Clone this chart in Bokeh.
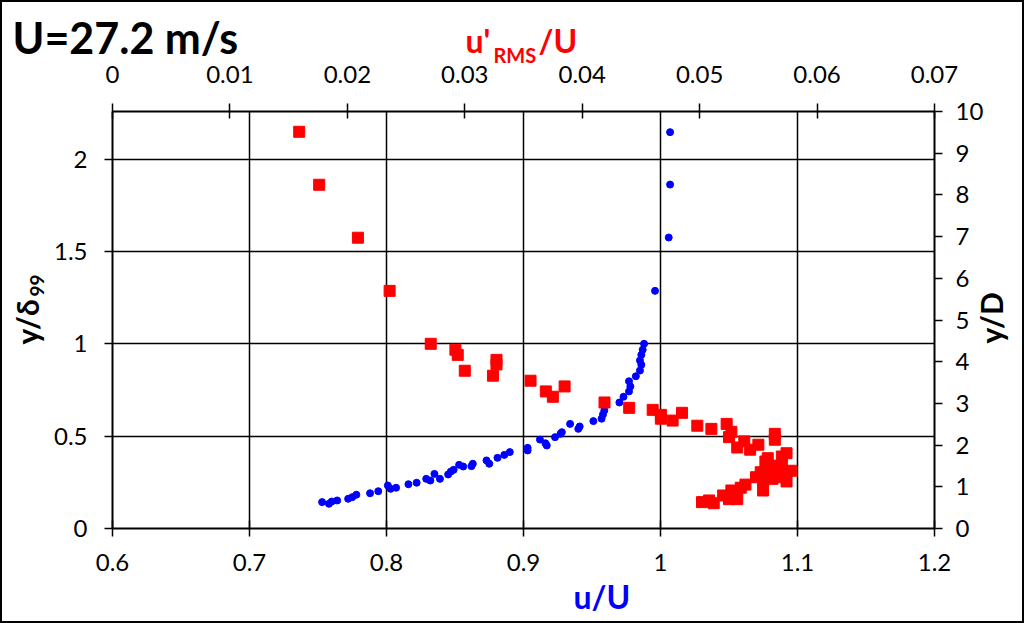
from math import pi

from bokeh.embed import file_html
from bokeh.layouts import column
from bokeh.models import (FixedTicker, Label, LinearAxis, NumeralTickFormatter,
                          Range1d)
from bokeh.plotting import figure
from bokeh.resources import INLINE

# Mean streamwise velocity profile: u/U against y/delta99
u_mean = [0.753, 0.758, 0.760, 0.764, 0.772, 0.775, 0.778, 0.788, 0.794, 0.801,
          0.803, 0.807, 0.816, 0.822, 0.829, 0.832, 0.835, 0.839, 0.845, 0.847,
          0.849, 0.853, 0.856, 0.862, 0.863, 0.873, 0.875, 0.881, 0.886, 0.890,
          0.903, 0.903, 0.912, 0.916, 0.917, 0.923, 0.927, 0.928, 0.934, 0.940,
          0.941, 0.951, 0.957, 0.958, 0.959, 0.970, 0.973, 0.977, 0.978, 0.977,
          0.982, 0.985, 0.986, 0.985, 0.986, 0.987, 0.988, 0.996, 1.006, 1.007,
          1.007]
y_mean = [0.143, 0.134, 0.146, 0.152, 0.161, 0.170, 0.183, 0.191, 0.202, 0.233,
          0.215, 0.221, 0.240, 0.248, 0.269, 0.260, 0.296, 0.269, 0.293, 0.309,
          0.318, 0.345, 0.336, 0.338, 0.351, 0.369, 0.351, 0.383, 0.399, 0.414,
          0.437, 0.423, 0.482, 0.462, 0.450, 0.495, 0.513, 0.522, 0.567, 0.540,
          0.553, 0.582, 0.595, 0.618, 0.640, 0.683, 0.714, 0.743, 0.770, 0.798,
          0.825, 0.856, 0.887, 0.911, 0.941, 0.969, 1.001, 1.288, 1.577, 1.864,
          2.148]

# Streamwise turbulence intensity: u'_RMS/U against y/delta99
u_rms = [0.0159, 0.0176, 0.0209, 0.0236, 0.0271, 0.0292, 0.0294, 0.0300, 0.0327, 0.0327,
         0.0324, 0.0356, 0.0369, 0.0375, 0.0385, 0.0419, 0.0440, 0.0460, 0.0467, 0.0467,
         0.0477, 0.0485, 0.0498, 0.0510, 0.0523, 0.0527, 0.0525, 0.0532, 0.0538, 0.0543,
         0.0550, 0.0564, 0.0564, 0.0558, 0.0556, 0.0574, 0.0570, 0.0578, 0.0574, 0.0554,
         0.0548, 0.0539, 0.0535, 0.0527, 0.0520, 0.0525, 0.0532, 0.0508, 0.0502, 0.0512,
         0.0560, 0.0566, 0.0559, 0.0562, 0.0554, 0.0569, 0.0552, 0.0570]
y_rms = [2.150, 1.863, 1.576, 1.288, 1.001, 0.969, 0.941, 0.855, 0.914, 0.889,
         0.828, 0.801, 0.743, 0.714, 0.770, 0.683, 0.654, 0.643, 0.616, 0.595,
         0.585, 0.627, 0.557, 0.540, 0.567, 0.524, 0.495, 0.439, 0.472, 0.427,
         0.454, 0.513, 0.481, 0.381, 0.363, 0.408, 0.390, 0.313, 0.255, 0.206,
         0.278, 0.238, 0.221, 0.206, 0.179, 0.159, 0.159, 0.152, 0.143, 0.137,
         0.341, 0.324, 0.296, 0.269, 0.260, 0.278, 0.305, 0.341]

# Axis ticks
u_ticks = [0.6, 0.7, 0.8, 0.9, 1.0, 1.1, 1.2]
y_ticks = [0, 0.5, 1, 1.5, 2]
rms_ticks = [0, 0.01, 0.02, 0.03, 0.04, 0.05, 0.06, 0.07]
yd_ticks = [0, 1, 2, 3, 4, 5, 6, 7, 8, 9, 10]

FONT = "Lato"
PAGE_W, PAGE_H = 1024, 623
EDGE = 2                                  # width of the frame round the chart
W, H = PAGE_W - 2 * EDGE, PAGE_H - 2 * EDGE
FRAME_L, FRAME_R, FRAME_T, FRAME_B = 112, 934, 111, 528   # plot area, page px
MID = 0.385      # baseline sits this many ems below the label anchor

# ---- main chart -------------------------------------------------------------
p = figure(width=W, height=H, output_backend="svg", toolbar_location=None,
           tools="", x_range=Range1d(0.6, 1.2), y_range=Range1d(0, 2.26),
           min_border_left=FRAME_L - EDGE, min_border_right=PAGE_W - EDGE - FRAME_R,
           min_border_top=FRAME_T - EDGE, min_border_bottom=PAGE_H - EDGE - FRAME_B,
           outline_line_color=None, background_fill_color="white",
           border_fill_color="white")
p.title.visible = False
p.extra_x_ranges = {"rms": Range1d(0, 0.07)}
p.extra_y_ranges = {"yd": Range1d(0, 10)}

bottom = p.below[0]
left = p.left[0]
top = LinearAxis(x_range_name="rms")
right = LinearAxis(y_range_name="yd")
p.add_layout(top, "above")
p.add_layout(right, "right")

fmt = NumeralTickFormatter(format="0.[00]")
for ax, ticks in ((bottom, u_ticks), (left, y_ticks), (top, rms_ticks), (right, yd_ticks)):
    ax.ticker = FixedTicker(ticks=ticks)
    ax.formatter = fmt
    ax.axis_line_color = "black"
    ax.axis_line_width = 2
    ax.major_tick_line_color = "black"
    ax.major_tick_line_width = 1.5
    ax.minor_tick_line_color = None
    ax.major_label_text_font = FONT
    ax.major_label_text_font_size = "24px"
    ax.major_label_text_color = "black"

bottom.major_tick_in, bottom.major_tick_out, bottom.major_label_standoff = 8, 8, 17
top.major_tick_in, top.major_tick_out, top.major_label_standoff = 7, 8, 21
left.major_tick_in, left.major_tick_out, left.major_label_standoff = 0, 8, 17
right.major_tick_in, right.major_tick_out, right.major_label_standoff = 0, 8, 13

for g in (p.xgrid, p.ygrid):
    g.grid_line_color = "black"
    g.grid_line_width = 1.5

p.scatter(u_mean, y_mean, marker="circle", size=7, color="#0000ff")
p.scatter(u_rms, y_rms, marker="square", size=11, color="#ff0000",
          x_range_name="rms")


def side_label(side, x, y, text, size, color="black", upright=False):
    """Bold text in a margin of the chart; (x, y) is where its baseline starts, page px."""
    if upright:
        x -= MID * size
        angle = pi / 2
    else:
        y -= MID * size
        angle = 0.0
    p.add_layout(Label(x=x - EDGE, y=y - EDGE, x_units="canvas", y_units="canvas",
                       text=text, text_font=FONT, text_font_size=f"{size}px",
                       text_font_style="bold", text_color=color, angle=angle,
                       text_align="left", text_baseline="alphabetic"), side)


side_label("above", 12, 54, "U=27.2 m/s", 43)
side_label("left", 38, 344, "y/δ", 30, upright=True)
side_label("below", 44, 296, "99", 19, upright=True)
side_label("right", 1002, 343, "y/D", 30, upright=True)

# ---- transparent text layer over the chart, in page pixels --------------------
ov = figure(width=W, height=H, output_backend="svg", toolbar_location=None,
            tools="", x_range=Range1d(FRAME_L, FRAME_R),
            y_range=Range1d(EDGE, PAGE_H - EDGE),
            x_axis_type=None, y_axis_type=None, min_border=0,
            outline_line_color=None, background_fill_color=None,
            border_fill_color=None, margin=(-H, 0, 0, 0))
ov.title.visible = False


def axis_name(x, y, text, size, color):
    ov.add_layout(Label(x=x, y=PAGE_H - (y - MID * size), text=text, text_font=FONT,
                        text_font_size=f"{size}px", text_font_style="bold",
                        text_color=color, text_align="left",
                        text_baseline="alphabetic"))


axis_name(465, 52, "u'", 32, "#ff0000")
axis_name(493, 62, "RMS", 20, "#ff0000")
axis_name(538, 52, "/U", 32, "#ff0000")
axis_name(573, 608, "u/U", 32, "#0000ff")

layout = column(p, ov, styles={"border": f"{EDGE}px solid black"})
open("out.html", "w").write(file_html(layout, INLINE))
